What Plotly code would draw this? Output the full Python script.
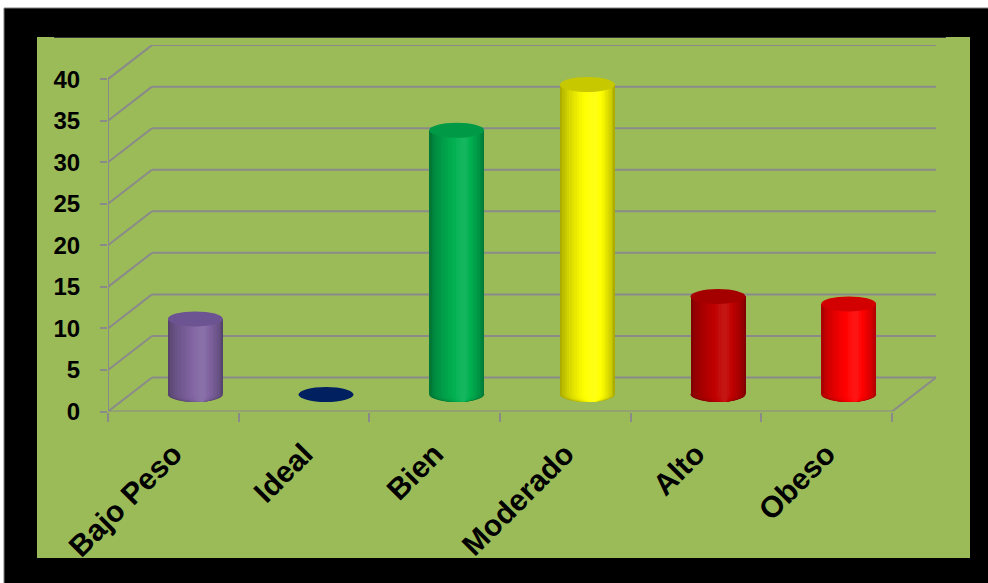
import plotly.graph_objects as go

# ---------------- data ----------------
categories = ["Bajo Peso", "Ideal", "Bien", "Moderado", "Alto", "Obeso"]
values = [9.1, 0.0, 31.8, 37.3, 11.8, 10.9]
body_colors = ["#8064A2", "#002060", "#00B050", "#FFFF00", "#C00000", "#FF0000"]
cap_colors = ["#6C5492", "#002060", "#009A46", "#C8C800", "#A40000", "#D20000"]
y_ticks = [0, 5, 10, 15, 20, 25, 30, 35, 40]

# ---------------- geometry (pixels) ----------------
FW, FH = 988, 583
X_LEFT = 108          # front left edge of the floor
CAT_W = 130.67        # pixels per category
Y_ZERO = 411.5        # pixel row of value 0 on the front
PX_PER_UNIT = 8.31    # pixels per value unit
DEPTH_DX, DEPTH_DY = 44, 34
CYL_W_PX = 55
CAP_RY_PX = 7.5

n = len(categories)
dxu = DEPTH_DX / CAT_W
dyu = DEPTH_DY / PX_PER_UNIT
ymax = max(y_ticks) + dyu
xmin, xmax = -0.5, n - 0.5 + dxu
x_right_px = X_LEFT + (xmax - xmin) * CAT_W
y_top_px = Y_ZERO - ymax * PX_PER_UNIT
wu = CYL_W_PX / CAT_W
ry = CAP_RY_PX / PX_PER_UNIT
yb = dyu / 2
cx = [i + dxu / 2 for i in range(n)]

GRID = "#8A8A8A"


def shade(hexc, f):
    h = hexc.lstrip("#")
    r, g, b = int(h[0:2], 16), int(h[2:4], 16), int(h[4:6], 16)
    if f <= 1:
        r, g, b = r * f, g * f, b * f
    else:
        t = f - 1
        r, g, b = r + (255 - r) * t, g + (255 - g) * t, b + (255 - b) * t
    return "#%02x%02x%02x" % (int(round(r)), int(round(g)), int(round(b)))


shapes = []


def px_rect(x0, y0, x1, y1, fill, line=None):
    return dict(type="rect", xref="paper", yref="paper",
                x0=x0 / FW, x1=x1 / FW, y0=1 - y1 / FH, y1=1 - y0 / FH,
                fillcolor=fill, line=dict(width=1 if line else 0, color=line or fill),
                layer="below")


shapes.append(px_rect(4, 8, FW + 2, FH + 2, "#000000", "#7f7f7f"))
shapes.append(px_rect(37, 37, 970, 558, "#9BBB59"))
shapes.append(dict(type="line", xref="paper", yref="paper", x0=54 / FW, x1=946 / FW,
                   y0=1 - 37.5 / FH, y1=1 - 37.5 / FH, line=dict(color="#333333", width=1),
                   layer="below"))

# back wall gridlines + left wall diagonals
for v in y_ticks:
    shapes.append(dict(type="line", xref="x", yref="y", x0=-0.5 + dxu, x1=n - 0.5 + dxu,
                       y0=v + dyu, y1=v + dyu, line=dict(color=GRID, width=2), layer="below"))
    shapes.append(dict(type="line", xref="x", yref="y", x0=-0.5, x1=-0.5 + dxu,
                       y0=v, y1=v + dyu, line=dict(color=GRID, width=2), layer="below"))
shapes.append(dict(type="line", xref="x", yref="y", x0=-0.5, x1=-0.5, y0=0, y1=max(y_ticks),
                   line=dict(color=GRID, width=2), layer="below"))
shapes.append(dict(type="line", xref="x", yref="y", x0=-0.5, x1=n - 0.5, y0=0, y1=0,
                   line=dict(color=GRID, width=2), layer="below"))
shapes.append(dict(type="line", xref="x", yref="y", x0=n - 0.5, x1=n - 0.5 + dxu, y0=0, y1=dyu,
                   line=dict(color=GRID, width=2), layer="below"))

# cylinder gradient layers: (width fraction, x shift fraction, shade factor)
NL = 14
layers = []
for k in range(NL):
    t = k / (NL - 1)
    frac = 1.0 - 0.9 * t
    shift = 0.12 * t
    f = 0.68 + 0.40 * (t ** 0.7)
    layers.append((frac, shift, f))

traces = []
for frac, sh, f in layers:
    cols = [shade(c, f) for c in body_colors]
    xs = [c + sh * wu for c in cx]
    w = wu * frac
    traces.append(go.Bar(x=xs, y=values, base=[yb] * n, width=[w] * n,
                         marker=dict(color=cols, line=dict(width=0)),
                         hoverinfo="skip", showlegend=False))
    for i in range(n):
        if values[i] <= 0:
            continue
        shapes.append(dict(type="circle", xref="x", yref="y",
                           x0=xs[i] - w / 2, x1=xs[i] + w / 2, y0=yb - ry, y1=yb + ry,
                           fillcolor=cols[i], line=dict(width=0), layer="below"))

# top caps
for i in range(n):
    top = yb + values[i]
    shapes.append(dict(type="circle", xref="x", yref="y",
                       x0=cx[i] - wu / 2, x1=cx[i] + wu / 2, y0=top - ry, y1=top + ry,
                       fillcolor=cap_colors[i], line=dict(width=0), layer="above"))

fig = go.Figure(traces)
fig.update_layout(
    width=FW, height=FH, margin=dict(l=0, r=0, t=0, b=0, autoexpand=False),
    paper_bgcolor="#FFFFFF", plot_bgcolor="rgba(0,0,0,0)",
    barmode="overlay", bargap=0, showlegend=False, shapes=shapes,
    font=dict(family="Liberation Sans, Arial", color="#000000"),
    xaxis=dict(domain=[X_LEFT / FW, x_right_px / FW], range=[xmin, xmax], automargin=False,
               tickmode="array", tickvals=list(range(n)), ticktext=categories,
               tickangle=-45, ticks="", showgrid=False, zeroline=False, showline=False,
               ticklabelstandoff=18,
               tickfont=dict(size=30, weight="bold", color="#000000"),
               minor=dict(tick0=-0.5, dtick=1, ticks="outside", ticklen=9,
                          tickcolor=GRID, tickwidth=2, showgrid=False),
               fixedrange=True),
    yaxis=dict(domain=[1 - Y_ZERO / FH, 1 - y_top_px / FH], range=[0, ymax], automargin=False,
               tickmode="array", tickvals=y_ticks, ticks="outside", ticklen=7,
               tickcolor=GRID, tickwidth=2, showgrid=False, zeroline=False, showline=False,
               ticklabelstandoff=15,
               tickfont=dict(size=24, weight="bold", color="#000000"), fixedrange=True),
)
fig.write_html("out.html", config={"displayModeBar": False})
